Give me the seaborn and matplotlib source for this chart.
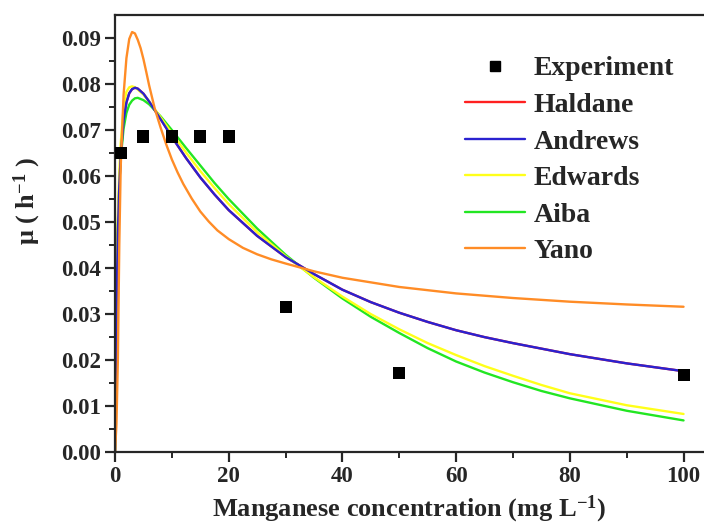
import numpy as np
import pandas as pd
import seaborn as sns
import matplotlib
matplotlib.use("Agg")
import matplotlib.pyplot as plt
from matplotlib.lines import Line2D

# Experimental points (Mn concentration, specific growth rate)
exp_x = [1, 5, 10, 15, 20, 30, 50, 100]
exp_mu = [0.0650, 0.0685, 0.0685, 0.0685, 0.0685, 0.0315, 0.0170, 0.0167]

# model curves
s_grid = [0, 0.25, 0.5, 0.75, 1, 1.5, 2, 2.5, 3, 3.5, 4, 5, 6, 7, 8, 10,
          12.5, 15, 17.5, 20, 25, 30, 35, 40, 45, 50, 55, 60, 65, 70, 75, 80, 90, 100]
haldane = [0, 0.0309, 0.0475, 0.0577, 0.0643, 0.0720, 0.0759, 0.0779, 0.0788, 0.0791,
           0.0789, 0.0778, 0.0761, 0.0742, 0.0723, 0.0684, 0.0638, 0.0596, 0.0559, 0.0525,
           0.0469, 0.0423, 0.0386, 0.0352, 0.0325, 0.0302, 0.0282, 0.0264, 0.0249, 0.0236,
           0.0224, 0.0212, 0.0192, 0.0175]
andrews = [0, 0.0309, 0.0475, 0.0577, 0.0643, 0.0720, 0.0759, 0.0779, 0.0788, 0.0791,
           0.0789, 0.0778, 0.0761, 0.0742, 0.0723, 0.0684, 0.0638, 0.0596, 0.0559, 0.0525,
           0.0469, 0.0423, 0.0386, 0.0352, 0.0325, 0.0302, 0.0282, 0.0264, 0.0249, 0.0236,
           0.0224, 0.0212, 0.0192, 0.0175]
edwards = [0, 0.0340, 0.0510, 0.0610, 0.0670, 0.0748, 0.0782, 0.0792, 0.0794, 0.0792,
           0.0787, 0.0776, 0.0761, 0.0744, 0.0727, 0.0692, 0.0650, 0.0610, 0.0573, 0.0538,
           0.0477, 0.0425, 0.0379, 0.0337, 0.0299, 0.0266, 0.0236, 0.0210, 0.0186, 0.0165,
           0.0145, 0.0127, 0.0101, 0.0082]
aiba = [0, 0.0337, 0.0493, 0.0582, 0.0638, 0.0702, 0.0736, 0.0754, 0.0763, 0.0768,
        0.0769, 0.0764, 0.0755, 0.0742, 0.0729, 0.0699, 0.0660, 0.0622, 0.0584, 0.0549,
        0.0485, 0.0428, 0.0378, 0.0333, 0.0293, 0.0258, 0.0225, 0.0196, 0.0172, 0.0151,
        0.0132, 0.0116, 0.0089, 0.0068]

s_yano = [0, 0.25, 0.5, 0.75, 1, 1.5, 2, 2.5, 3, 3.5, 4, 4.5, 5, 5.5, 6, 7, 8, 9, 10,
          11, 12, 13.5, 15, 16.5, 18, 20, 22.5, 25, 27.5, 30, 35, 40, 50, 60, 70, 80, 90, 100]
yano = [0, 0.006, 0.020, 0.045, 0.062, 0.0775, 0.0855, 0.0897, 0.0912, 0.0909, 0.0895,
        0.0877, 0.0853, 0.0825, 0.0796, 0.0745, 0.0705, 0.0668, 0.0635,
        0.0607, 0.0582, 0.0550, 0.0522, 0.0500, 0.0481, 0.0462, 0.0443, 0.0429, 0.0418,
        0.0409, 0.0392, 0.0378, 0.0358, 0.0344, 0.0334, 0.0326, 0.0320, 0.0315]

models = ["Haldane", "Andrews", "Edwards", "Aiba", "Yano"]
colors = {"Haldane": "#ff2020", "Andrews": "#2a22d0", "Edwards": "#ffff1a",
          "Aiba": "#22e622", "Yano": "#ff8c26"}

frames = []
for name, xs, ys in [("Haldane", s_grid, haldane), ("Andrews", s_grid, andrews),
                     ("Edwards", s_grid, edwards), ("Aiba", s_grid, aiba),
                     ("Yano", s_yano, yano)]:
    frames.append(pd.DataFrame({"S": xs, "mu": ys, "model": name}))
curves = pd.concat(frames, ignore_index=True)
exp_df = pd.DataFrame({"S": exp_x, "mu": exp_mu})

sns.set_style("ticks")
plt.rcParams["font.family"] = ["Liberation Serif", "DejaVu Serif"]
plt.rcParams["font.weight"] = "bold"
plt.rcParams["mathtext.fontset"] = "custom"
plt.rcParams["mathtext.rm"] = "Liberation Serif:bold"
plt.rcParams["mathtext.it"] = "Liberation Serif:bold"
plt.rcParams["mathtext.bf"] = "Liberation Serif:bold"

fig = plt.figure(figsize=(7.04, 5.25), dpi=100)
ax = fig.add_axes([0.1634, 0.1396, 0.8366, 0.8318])

# draw in order so Andrews sits over Haldane
for name in ["Haldane", "Aiba", "Edwards", "Andrews", "Yano"]:
    sub = curves[curves["model"] == name]
    sns.lineplot(data=sub, x="S", y="mu", color=colors[name], lw=1.7,
                 estimator=None, sort=False, ax=ax, legend=False)
sns.scatterplot(data=exp_df, x="S", y="mu", marker="s", s=75, color="black",
                edgecolor="none", ax=ax, zorder=5, legend=False)

ax.set_xlim(0, 103.6)
ax.set_ylim(0, 0.0949)
ax.set_xticks([0, 20, 40, 60, 80, 100])
ax.set_xticks([10, 30, 50, 70, 90], minor=True)
ax.set_yticks(np.arange(0, 0.091, 0.01))
ax.set_yticks(np.arange(0.005, 0.095, 0.01), minor=True)
ax.set_yticklabels(["%.2f" % v for v in np.arange(0, 0.091, 0.01)])

ax.spines["right"].set_visible(False)
for sp in ["left", "bottom", "top"]:
    ax.spines[sp].set_linewidth(1.6)
ax.tick_params(which="major", direction="out", length=7, width=1.6,
               labelsize=16.5, top=False, right=False, pad=3)
ax.tick_params(which="minor", direction="out", length=4.5, width=1.4,
               top=False, right=False)
for lab in ax.get_xticklabels() + ax.get_yticklabels():
    lab.set_fontweight("bold")

ax.set_xlabel(r"Manganese concentration (mg L$^{-1}$)", fontsize=19,
              fontweight="bold", labelpad=5)
ax.set_ylabel(r"μ ( h$^{-1}$ )", fontsize=19, fontweight="bold")
ax.yaxis.set_label_coords(-0.122, 0.574)

handles = [Line2D([], [], ls="none", marker="s", ms=7.5, color="black")]
handles += [Line2D([], [], color=colors[m], lw=1.7) for m in models]
ax.legend(handles, ["Experiment"] + models, loc="upper left",
          bbox_to_anchor=(465 / 704, 1 - 56 / 525), bbox_transform=fig.transFigure,
          frameon=False, borderpad=0, borderaxespad=0,
          prop={"family": "Liberation Serif", "weight": "bold", "size": 20},
          handlelength=2.16, labelspacing=0.4, handletextpad=0.3)

fig.savefig("out.png", dpi=100)
